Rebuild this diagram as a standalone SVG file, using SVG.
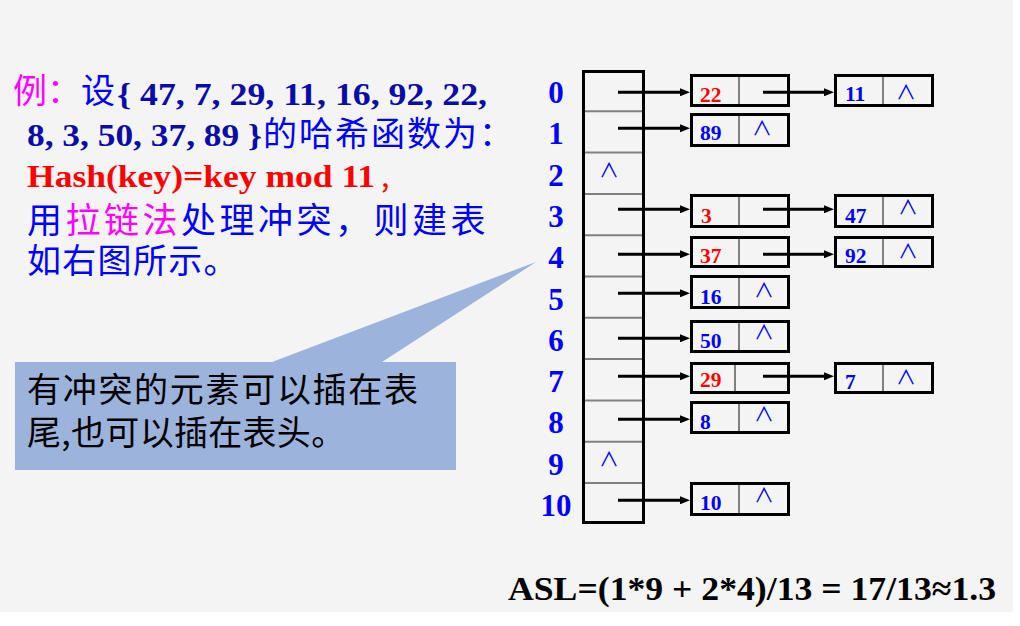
<svg xmlns="http://www.w3.org/2000/svg" width="1020" height="626" viewBox="0 0 1020 626">
<defs>
<style>
.lat{font-family:"Liberation Serif","Times New Roman",serif;font-weight:bold}
.cjk{font-family:"Noto Sans CJK SC","Noto Sans",sans-serif}
.idx{font-family:"Liberation Serif","Times New Roman",serif;font-weight:bold;font-size:31px;fill:#0000ff;text-anchor:middle}
.val{font-family:"Liberation Serif","Times New Roman",serif;font-weight:bold;font-size:21.5px}
.nil{font-family:"Noto Sans CJK SC","DejaVu Sans",sans-serif;font-size:20px;fill:#0000ff;text-anchor:middle}
.box{fill:none;stroke:#000;stroke-width:3}
.div{stroke:#808080;stroke-width:2}
.arr{stroke:#000;stroke-width:3;fill:none;marker-end:url(#ah)}
.blue{fill:#0000ff}.red{fill:#ff0000}.mag{fill:#ff00ff}.navy{fill:#0b0ba8}
</style>
<marker id="ah" markerUnits="userSpaceOnUse" markerWidth="10" markerHeight="8" refX="2" refY="4" orient="auto">
<path d="M0,0 L10,4 L0,8 z" fill="#000"/>
</marker>
</defs>
<rect x="0" y="0" width="1020" height="626" fill="#ffffff"/>
<rect x="0" y="0" width="1013" height="612" fill="#f4f4f4"/>

<g id="intro-text">
<text class="cjk" x="13" y="103" font-size="34"><tspan class="mag">例：</tspan><tspan class="blue">设</tspan></text>
<text class="lat navy" x="117" y="105" font-size="32" textLength="370" lengthAdjust="spacingAndGlyphs">{ 47, 7, 29, 11, 16, 92, 22,</text>
<text class="lat navy" x="27" y="146" font-size="32" textLength="235" lengthAdjust="spacingAndGlyphs">8, 3, 50, 37, 89 }</text>
<text class="cjk blue" x="263" y="145.5" font-size="34" letter-spacing="2">的哈希函数为：</text>
<text class="lat red" x="27" y="187" font-size="32" textLength="348" lengthAdjust="spacingAndGlyphs">Hash(key)=key mod 11</text>
<text class="cjk red" x="381" y="187" font-size="30">,</text>
<text class="cjk blue" x="27" y="232.5" font-size="35" letter-spacing="3.5">用<tspan class="mag">拉链法</tspan>处理冲突，则建表</text>
<text class="cjk blue" x="27" y="272.5" font-size="34" letter-spacing="1.3">如右图所示。</text>
</g>

<g id="callout">
<path d="M15,362 L272,362 L536,262 L382,362 L456,362 L456,470 L15,470 Z" fill="#9cb3db"/>
<text class="cjk" x="27" y="402" font-size="34" fill="#000" letter-spacing="1.7">有冲突的元素可以插在表</text>
<text class="cjk" x="27" y="445" font-size="34" fill="#000" letter-spacing="0.3">尾,也可以插在表头。</text>
</g>

<g id="hash-table">
<rect class="box" x="583.5" y="71.5" width="60" height="451"/>
<g class="div">
<line x1="585" y1="111.3" x2="642" y2="111.3"/>
<line x1="585" y1="152.6" x2="642" y2="152.6"/>
<line x1="585" y1="193.9" x2="642" y2="193.9"/>
<line x1="585" y1="235.2" x2="642" y2="235.2"/>
<line x1="585" y1="276.5" x2="642" y2="276.5"/>
<line x1="585" y1="317.8" x2="642" y2="317.8"/>
<line x1="585" y1="359.1" x2="642" y2="359.1"/>
<line x1="585" y1="400.4" x2="642" y2="400.4"/>
<line x1="585" y1="441.7" x2="642" y2="441.7"/>
<line x1="585" y1="483" x2="642" y2="483"/>
</g>
<text class="nil" x="609" y="178">∧</text>
<text class="nil" x="609" y="467">∧</text>
</g>

<g id="indices">
<text class="idx" x="556" y="103">0</text>
<text class="idx" x="556" y="144.3">1</text>
<text class="idx" x="556" y="185.6">2</text>
<text class="idx" x="556" y="226.9">3</text>
<text class="idx" x="556" y="268.2">4</text>
<text class="idx" x="556" y="309.5">5</text>
<text class="idx" x="556" y="350.8">6</text>
<text class="idx" x="556" y="392.1">7</text>
<text class="idx" x="556" y="433.4">8</text>
<text class="idx" x="556" y="474.7">9</text>
<text class="idx" x="556" y="516">10</text>
</g>

<g id="node-22">
<rect class="box" x="691.5" y="75.5" width="97" height="30"/>
<line class="div" x1="739" y1="77" x2="739" y2="104"/>
<text class="val red" x="700" y="101.7">22</text>
</g>
<g id="node-11">
<rect class="box" x="835.5" y="75.5" width="97" height="30"/>
<line class="div" x1="883" y1="77" x2="883" y2="104"/>
<text class="val blue" x="845" y="101">11</text>
<text class="nil" x="906" y="100">∧</text>
</g>
<g id="node-89">
<rect class="box" x="691.5" y="114.5" width="97" height="31"/>
<line class="div" x1="739" y1="116" x2="739" y2="144"/>
<text class="val blue" x="700" y="140">89</text>
<text class="nil" x="762" y="136">∧</text>
</g>
<g id="node-3">
<rect class="box" x="691.5" y="195.5" width="97" height="31"/>
<line class="div" x1="739" y1="197" x2="739" y2="225"/>
<text class="val red" x="701" y="222.7">3</text>
</g>
<g id="node-47">
<rect class="box" x="835.5" y="195.5" width="97" height="31"/>
<line class="div" x1="883" y1="197" x2="883" y2="225"/>
<text class="val blue" x="845" y="223">47</text>
<text class="nil" x="908" y="215">∧</text>
</g>
<g id="node-37">
<rect class="box" x="691.5" y="237.5" width="97" height="29"/>
<line class="div" x1="739" y1="239" x2="739" y2="265"/>
<text class="val red" x="700" y="263.3">37</text>
</g>
<g id="node-92">
<rect class="box" x="835.5" y="237.5" width="97" height="29"/>
<line class="div" x1="883" y1="239" x2="883" y2="265"/>
<text class="val blue" x="845" y="263.3">92</text>
<text class="nil" x="908" y="259">∧</text>
</g>
<g id="node-16">
<rect class="box" x="691.5" y="276.5" width="97" height="31"/>
<line class="div" x1="739" y1="278" x2="739" y2="306"/>
<text class="val blue" x="700" y="304">16</text>
<text class="nil" x="764" y="298">∧</text>
</g>
<g id="node-50">
<rect class="box" x="691.5" y="321.5" width="97" height="30"/>
<line class="div" x1="739" y1="323" x2="739" y2="350"/>
<text class="val blue" x="700" y="348">50</text>
<text class="nil" x="764" y="340">∧</text>
</g>
<g id="node-29">
<rect class="box" x="691.5" y="363.5" width="97" height="29"/>
<line class="div" x1="735" y1="365" x2="735" y2="391"/>
<text class="val red" x="700" y="386.7">29</text>
</g>
<g id="node-7">
<rect class="box" x="835.5" y="363.5" width="97" height="29"/>
<line class="div" x1="883" y1="365" x2="883" y2="391"/>
<text class="val blue" x="845" y="389">7</text>
<text class="nil" x="906" y="385">∧</text>
</g>
<g id="node-8">
<rect class="box" x="691.5" y="402.5" width="97" height="30"/>
<line class="div" x1="739" y1="404" x2="739" y2="431"/>
<text class="val blue" x="700" y="429">8</text>
<text class="nil" x="764" y="422">∧</text>
</g>
<g id="node-10">
<rect class="box" x="691.5" y="483.5" width="97" height="31"/>
<line class="div" x1="739" y1="485" x2="739" y2="513"/>
<text class="val blue" x="700" y="510">10</text>
<text class="nil" x="764" y="503">∧</text>
</g>

<g id="connectors">
<line class="arr" x1="618" y1="92.3" x2="682" y2="92.3"/>
<line class="arr" x1="618" y1="128.3" x2="682" y2="128.3"/>
<line class="arr" x1="618" y1="209.3" x2="682" y2="209.3"/>
<line class="arr" x1="618" y1="254.3" x2="682" y2="254.3"/>
<line class="arr" x1="618" y1="293.3" x2="682" y2="293.3"/>
<line class="arr" x1="618" y1="338.3" x2="682" y2="338.3"/>
<line class="arr" x1="618" y1="376.3" x2="682" y2="376.3"/>
<line class="arr" x1="618" y1="419.3" x2="682" y2="419.3"/>
<line class="arr" x1="618" y1="500.3" x2="682" y2="500.3"/>
<line class="arr" x1="763" y1="92.3" x2="826" y2="92.3"/>
<line class="arr" x1="763" y1="209.3" x2="826" y2="209.3"/>
<line class="arr" x1="763" y1="254.3" x2="826" y2="254.3"/>
<line class="arr" x1="763" y1="376.3" x2="826" y2="376.3"/>
</g>

<g id="asl">
<text class="lat" x="508" y="600" font-size="34" fill="#000" textLength="488" lengthAdjust="spacingAndGlyphs">ASL=(1*9 + 2*4)/13 = 17/13≈1.3</text>
</g>
</svg>
